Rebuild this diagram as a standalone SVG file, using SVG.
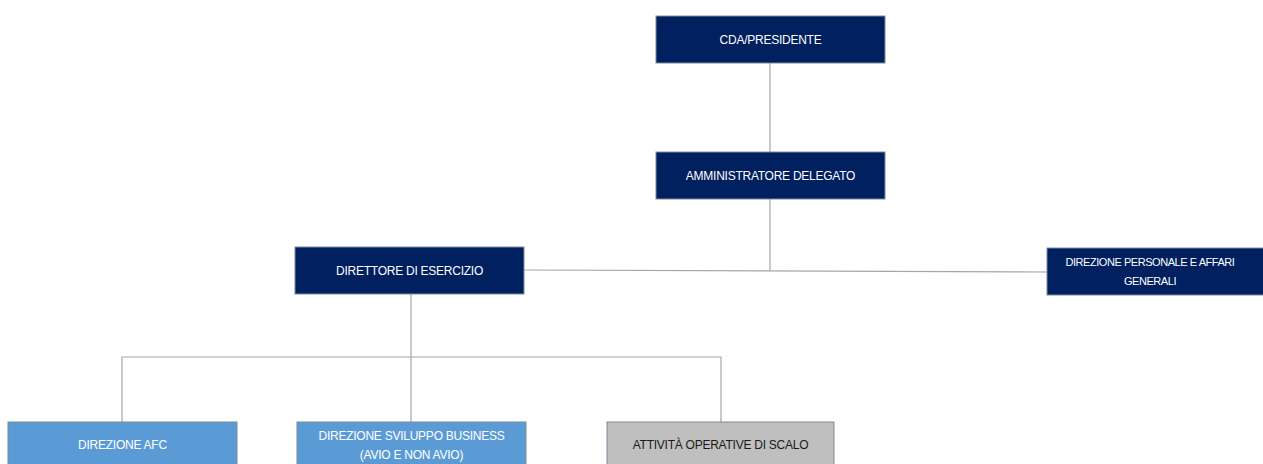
<svg xmlns="http://www.w3.org/2000/svg" width="1263" height="464" viewBox="0 0 1263 464">
<style>
.box{stroke:#7f8a99;stroke-width:1}
.navy{fill:#002060}
.blue{fill:#5b9bd5}
.gray{fill:#bfbfbf}
text{font-family:"Liberation Sans",Arial,sans-serif;font-size:12px;text-anchor:middle;letter-spacing:-0.25px}
.sm{font-size:11px;letter-spacing:-0.45px}
.w{fill:#ffffff}
.d{fill:#1a1a1a}
.conn{stroke:#a6a6a6;stroke-width:1.2;fill:none}
</style>
<rect width="1263" height="464" fill="#ffffff"/>
<g id="connectors">
<path class="conn" d="M770,63 V152"/>
<path class="conn" d="M770,199 V271"/>
<path class="conn" d="M524,270 L1047,272"/>
<path class="conn" d="M411,294 V422"/>
<path class="conn" d="M122,422 V357 H721 V422"/>
</g>
<g id="cda">
<rect class="box navy" x="656" y="16" width="229" height="47"/>
<text class="w" x="770.5" y="44">CDA/PRESIDENTE</text>
</g>
<g id="ad">
<rect class="box navy" x="656" y="152" width="229" height="47"/>
<text class="w" x="770.5" y="180">AMMINISTRATORE DELEGATO</text>
</g>
<g id="direttore">
<rect class="box navy" x="295" y="247" width="229" height="47"/>
<text class="w" x="409.5" y="275">DIRETTORE DI ESERCIZIO</text>
</g>
<g id="personale">
<rect class="box navy" x="1047" y="248" width="229" height="47"/>
<text class="w sm" x="1150" y="266">DIREZIONE PERSONALE E AFFARI</text>
<text class="w sm" x="1150" y="285">GENERALI</text>
</g>
<g id="afc">
<rect class="box blue" x="8" y="422" width="229" height="47"/>
<text class="w" x="122.5" y="449">DIREZIONE AFC</text>
</g>
<g id="sviluppo">
<rect class="box blue" x="297" y="422" width="229" height="47"/>
<text class="w" x="411.5" y="440">DIREZIONE SVILUPPO BUSINESS</text>
<text class="w" x="411.5" y="459">(AVIO E NON AVIO)</text>
</g>
<g id="attivita">
<rect class="box gray" x="607" y="422" width="227" height="47"/>
<text class="d" x="720.5" y="449">ATTIVITÀ OPERATIVE DI SCALO</text>
</g>
</svg>
